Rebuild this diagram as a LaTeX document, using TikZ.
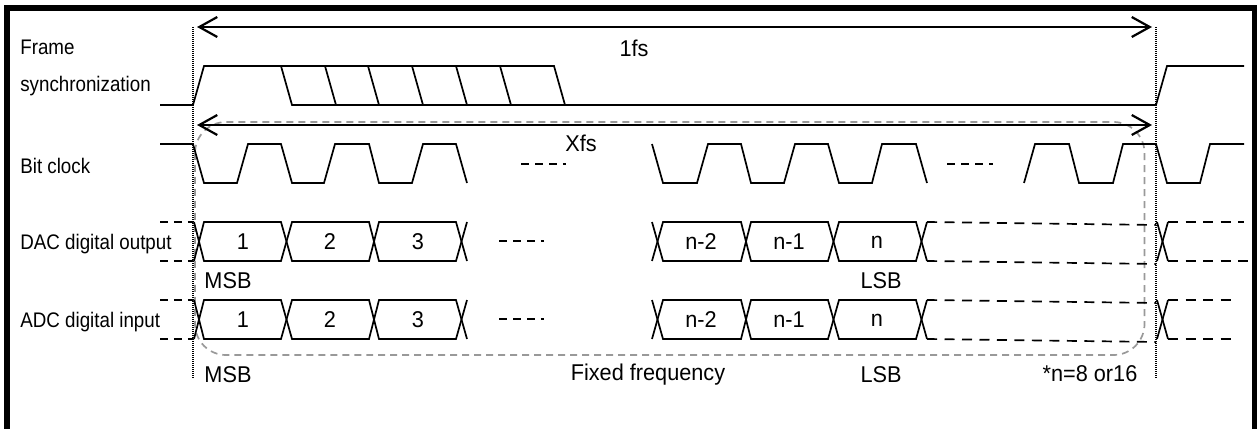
\documentclass[tikz,border=0pt]{standalone}
\usepackage{fontspec}
\setmainfont{Liberation Sans}
\newfontfamily\sigfont[FakeStretch=0.89]{Liberation Sans}
\newfontfamily\txtfont[FakeStretch=0.95]{Liberation Sans}
\usetikzlibrary{arrows.meta}
\tikzstyle{wave}=[line width=1.7*0.02cm, line join=miter]
\tikzstyle{dim}=[line width=2.2*0.02cm, <->]
\tikzstyle{undef}=[line width=1.7*0.02cm, dash pattern=on 0.2cm off 0.15cm]
\tikzstyle{gap}=[line width=1.7*0.02cm, dash pattern=on 0.16cm off 0.12cm]
\tikzstyle{fsmark}=[line width=1.5*0.02cm, dash pattern=on 0.02cm off 0.02cm]
\tikzstyle{group}=[line width=1.7*0.02cm, gray!80, dash pattern=on 0.14cm off 0.1cm, rounded corners=0.62cm]
\tikzstyle{sig}=[inner sep=0, anchor=west, font=\sigfont\fontsize{12}{14}\selectfont]
\tikzstyle{txt}=[inner sep=0, font=\txtfont\fontsize{13}{15}\selectfont]
\begin{document}
\begin{tikzpicture}[x=0.02cm,y=-0.02cm,>={Straight Barb[length=0.36cm,width=0.4cm]}]
    \useasboundingbox (0,0) rectangle (1257,429);
    % outer frame
    \draw[line width=6*0.02cm, miter limit=10] (7,429) -- (7,8) -- (1254.5,8) -- (1254.5,429);
    % time marks
    \coordinate (topL) at (193,27);
    \coordinate (botL) at (193,378);
    \coordinate (topR) at (1156,27);
    \coordinate (botR) at (1156,378);
    \draw[group] (195,122) rectangle (1144.5,355);
    \draw[fsmark] (topL) -- (botL);
    \draw[fsmark] (topR) -- (botR);
    \coordinate (fsL) at (197,27);
    \coordinate (fsR) at (1152,27);
    \coordinate (xfsL) at (197,125);
    \coordinate (xfsR) at (1152,125);
    \path[dim] (fsL) edge (fsR);
    \path[dim] (xfsL) edge (xfsR);
    \node[txt] (fs) at (634,48) {1fs};
    \node[txt] (xfs) at (581,143) {Xfs};
    % signal names
    \node[sig] (frame) at (20,47) {Frame};
    \node[sig] (sync) at (20,86) {synchronization};
    \node[sig] (bclk) at (20,166) {Bit clock};
    \node[sig] (dac) at (20,244) {DAC digital output};
    \node[sig] (adc) at (20,322) {ADC digital input};
    % frame synchronization
    \draw[wave] (160,105) -- (193,105) -- (204,66) -- (554,66) -- (565,105) -- (1156,105) -- (1167,66) -- (1244,66);
    \draw[wave] (281,66) -- (292,105) -- (565,105);
    \draw[wave] (325,66) -- (336,105);
    \draw[wave] (368,66) -- (379,105);
    \draw[wave] (412,66) -- (423,105);
    \draw[wave] (456,66) -- (467,105);
    \draw[wave] (500,66) -- (511,105);
    % bit clock
    \draw[wave] (160,144) -- (193,144) -- (204,183) -- (237,183) -- (248,144) -- (281,144) -- (292,183) -- (324,183) -- (335,144) -- (369,144) -- (379,183) -- (412,183) -- (423,144) -- (456,144) -- (467,183);
    \draw[gap] (521,164) -- (566,164);
    \draw[wave] (652,144) -- (663,183) -- (697,183) -- (708,144) -- (741,144) -- (751,183) -- (784,183) -- (795,144) -- (828,144) -- (839,183) -- (872,183) -- (882,144) -- (916,144) -- (927,183);
    \draw[gap] (947,164) -- (993,164);
    \draw[wave] (1024,183) -- (1035,144) -- (1069,144) -- (1079,183) -- (1113,183) -- (1123,144) -- (1156,144) -- (1167,183) -- (1200,183) -- (1210,144) -- (1244,144);
    % DAC digital output
    \draw[gap] (160,222) -- (193,222);
    \draw[gap] (160,261) -- (193,261);
    \draw[wave] (194,261) -- (204,222) -- (281,222) -- (292,261) -- (369,261) -- (379,222) -- (456,222) -- (467,261);
    \draw[wave] (194,222) -- (204,261) -- (281,261) -- (292,222) -- (369,222) -- (379,261) -- (456,261) -- (467,222);
    \node[txt] (dacA) at (243,242) {1};
    \node[txt] (dacB) at (330,242) {2};
    \node[txt] (dacC) at (418,242) {3};
    \draw[gap] (499,241) -- (544,241);
    \draw[wave] (652,261) -- (663,222) -- (741,222) -- (751,261) -- (828,261) -- (839,222) -- (916,222) -- (927,261);
    \draw[wave] (652,222) -- (663,261) -- (741,261) -- (751,222) -- (828,222) -- (839,261) -- (916,261) -- (927,222);
    \node[txt] (dacD) at (701,242) {n-2};
    \node[txt] (dacE) at (789,242) {n-1};
    \node[txt] (dacF) at (877,242) {n};
    \draw[undef] (927,222) -- (1156,225);
    \draw[undef] (927,261) -- (1156,264);
    \draw[wave] (1157,222) -- (1168,261);
    \draw[wave] (1157,261) -- (1168,222);
    \draw[undef] (1168,222) -- (1244,222);
    \draw[undef] (1168,261) -- (1252,261);
    \node[txt] (msbA) at (228,281) {MSB};
    \node[txt] (lsbA) at (881,281) {LSB};
    % ADC digital input
    \draw[gap] (160,300) -- (193,300);
    \draw[gap] (160,339) -- (193,339);
    \draw[wave] (194,339) -- (204,300) -- (281,300) -- (292,339) -- (369,339) -- (379,300) -- (456,300) -- (467,339);
    \draw[wave] (194,300) -- (204,339) -- (281,339) -- (292,300) -- (369,300) -- (379,339) -- (456,339) -- (467,300);
    \node[txt] (adcA) at (243,320) {1};
    \node[txt] (adcB) at (330,320) {2};
    \node[txt] (adcC) at (418,320) {3};
    \draw[gap] (499,319) -- (544,319);
    \draw[wave] (652,339) -- (663,300) -- (741,300) -- (751,339) -- (828,339) -- (839,300) -- (916,300) -- (927,339);
    \draw[wave] (652,300) -- (663,339) -- (741,339) -- (751,300) -- (828,300) -- (839,339) -- (916,339) -- (927,300);
    \node[txt] (adcD) at (701,320) {n-2};
    \node[txt] (adcE) at (789,320) {n-1};
    \node[txt] (adcF) at (877,320) {n};
    \draw[undef] (927,300) -- (1156,303);
    \draw[undef] (927,339) -- (1156,342);
    \draw[wave] (1157,300) -- (1168,339);
    \draw[wave] (1157,339) -- (1168,300);
    \draw[undef] (1168,300) -- (1233,300);
    \draw[undef] (1168,339) -- (1233,339);
    \node[txt] (msbB) at (228,375) {MSB};
    \node[txt] (freq) at (648,375) {Fixed frequency};
    \node[txt] (lsbB) at (881,375) {LSB};
    \node[txt] (note) at (1090,374) {*n=8 or16};
\end{tikzpicture}
\end{document}
